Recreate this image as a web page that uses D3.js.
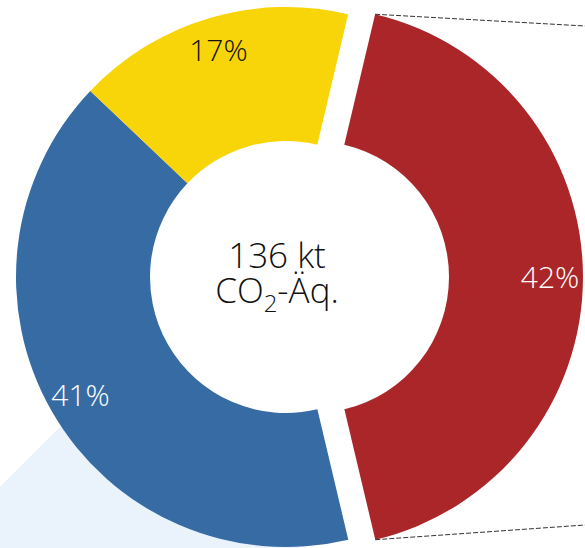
<!DOCTYPE html>
<html>
<head>
<meta charset="utf-8">
<script src="https://cdn.jsdelivr.net/npm/d3@7"></script>
<style>
  html, body { margin: 0; padding: 0; background: #fff; }
  svg { display: block; font-family: "Open Sans", "Noto Sans", sans-serif; font-weight: 300; }
</style>
</head>
<body>
<div id="chart"></div>
<script>
// Data (shares of 136 kt CO2-eq.)
var categories = ["red", "blue", "yellow"];
var shares = [42.6, 40.8, 16.6];
var shareLabels = ["42%", "41%", "17%"];
var colors = ["#ab2629", "#366ba4", "#f8d508"];
var labelColors = ["#ffffff", "#ffffff", "#111111"];
var totalLine = "136 kt";
var unitParts = ["CO", "2", "-Äq."];

var width = 585, height = 548;
var cx = 286, cy = 277;
var outerR = 270, innerR = 136;
var explode = 27;          // red slice pulled out to the right
var labelR = 237;
var startDeg = 13.3;

var svg = d3.select("#chart").append("svg")
    .attr("width", width)
    .attr("height", height);

// light blue connector behind the blue slice
svg.append("path")
    .attr("d", d3.line()([[0, 487], [150, 337], [300, 548], [0, 548]]))
    .attr("fill", "#eaf2fb");

var data = categories.map(function(c, i) {
  return { name: c, value: shares[i], label: shareLabels[i], color: colors[i], textColor: labelColors[i] };
});

var pie = d3.pie()
    .sort(null)
    .value(function(d) { return d.value; })
    .startAngle(startDeg * Math.PI / 180)
    .endAngle(startDeg * Math.PI / 180 + 2 * Math.PI);

var arc = d3.arc().innerRadius(innerR).outerRadius(outerR);
var labelArc = d3.arc().innerRadius(labelR).outerRadius(labelR);

var arcs = pie(data);

var g = svg.selectAll(".arc")
    .data(arcs)
    .enter().append("g")
    .attr("class", "arc")
    .attr("transform", function(d, i) {
      var dx = i === 0 ? explode : 0;
      return "translate(" + (cx + dx) + "," + cy + ")";
    });

g.append("path")
    .attr("d", arc)
    .attr("fill", function(d) { return d.data.color; });

g.append("text")
    .attr("transform", function(d) { return "translate(" + labelArc.centroid(d) + ")"; })
    .attr("text-anchor", "middle")
    .attr("dy", "0.36em")
    .attr("font-size", 30)
    .attr("fill", function(d) { return d.data.textColor; })
    .text(function(d) { return d.data.label; });

// dashed lines from the pulled-out slice to the detail off to the right
var red = arcs[0];
function corner(a) {
  return [cx + explode + outerR * Math.sin(a), cy - outerR * Math.cos(a)];
}
var detail = { x: width, top: 26, bottom: 525 };
[[corner(red.startAngle), [detail.x, detail.top]],
 [corner(red.endAngle), [detail.x, detail.bottom]]].forEach(function(seg) {
  svg.append("path")
      .attr("d", d3.line()(seg))
      .attr("stroke", "#333")
      .attr("stroke-width", 1)
      .attr("stroke-dasharray", "5,2")
      .attr("fill", "none");
});

// total in the middle
svg.append("text")
    .attr("x", cx - 9)
    .attr("y", cy - 9)
    .attr("text-anchor", "middle")
    .attr("font-size", 35)
    .attr("fill", "#111")
    .text(totalLine);

var unit = svg.append("text")
    .attr("x", cx - 9)
    .attr("y", cy + 26)
    .attr("text-anchor", "middle")
    .attr("font-size", 35)
    .attr("fill", "#111");
unit.append("tspan").text(unitParts[0]);
unit.append("tspan").attr("dy", 9).attr("font-size", 24).text(unitParts[1]);
unit.append("tspan").attr("dy", -9).text(unitParts[2]);
</script>
</body>
</html>
